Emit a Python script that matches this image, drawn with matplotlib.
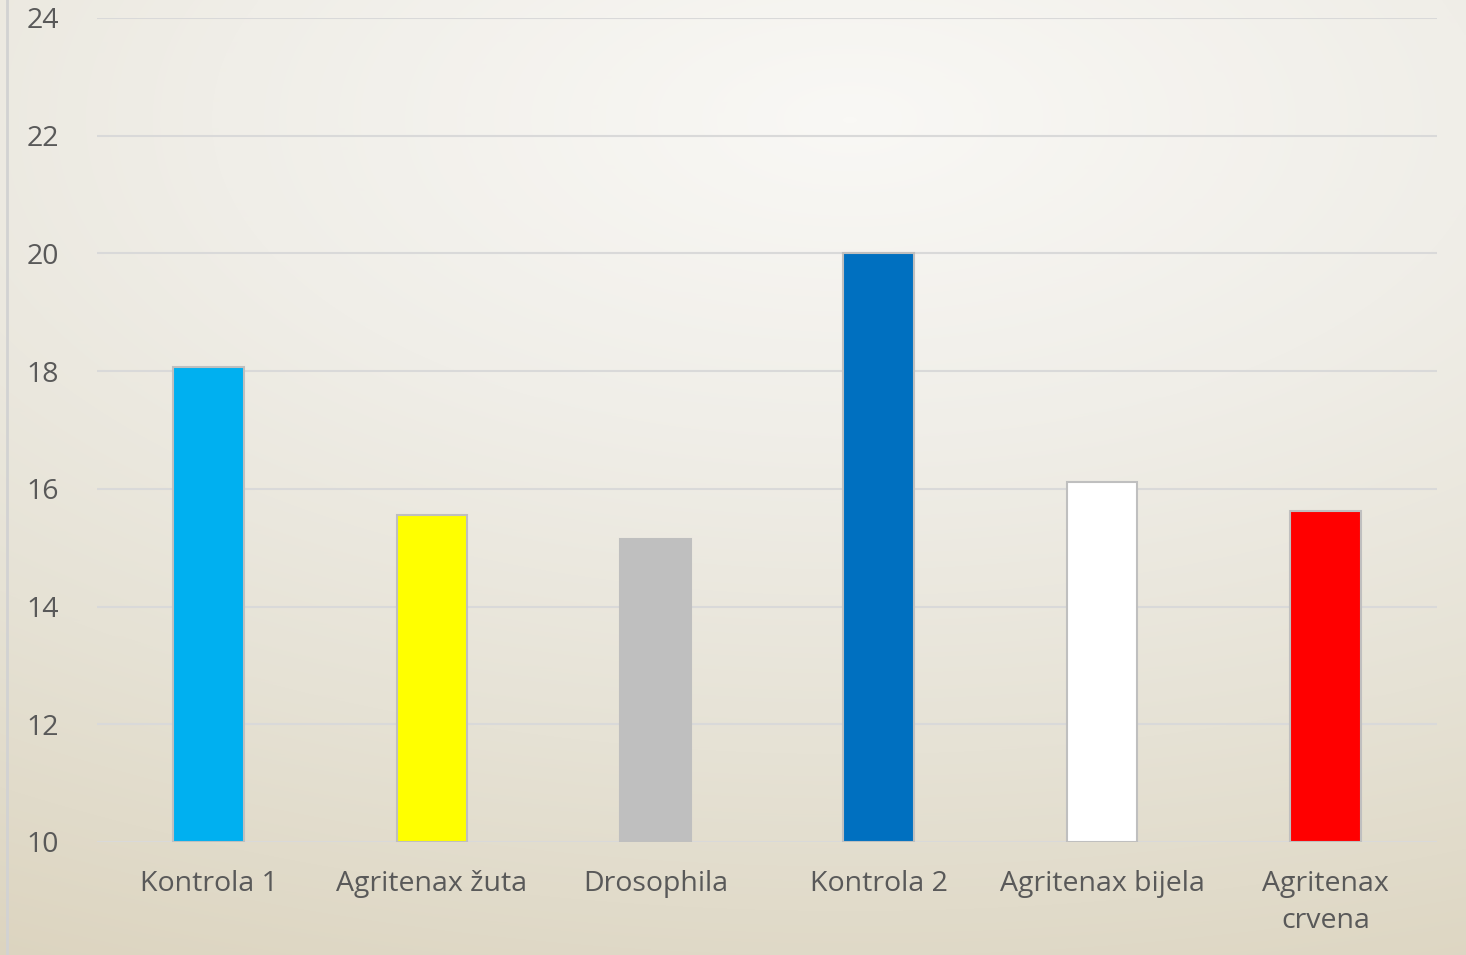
import numpy as np
import matplotlib
matplotlib.use("Agg")
import matplotlib.pyplot as plt
from matplotlib.colors import LinearSegmentedColormap

categories = ["Kontrola 1", "Agritenax žuta", "Drosophila", "Kontrola 2", "Agritenax bijela", "Agritenax\ncrvena"]
values = [18.07, 15.55, 15.15, 20.0, 16.12, 15.62]
colors = ["#00B0F0", "#FFFF00", "#BFBFBF", "#0070C0", "#FFFFFF", "#FF0000"]
yticks = [10, 12, 14, 16, 18, 20, 22, 24]

plt.rcParams['font.family'] = ['Open Sans', 'DejaVu Sans']

fig = plt.figure(figsize=(14.66, 9.55), dpi=100)

# background gradient
bg = fig.add_axes([0, 0, 1, 1], zorder=0)
W, H = 1466, 955
xx, yy = np.meshgrid(np.arange(W), np.arange(H))
cx, cy = 850, 120
r = np.sqrt(((xx - cx) / 1900.0) ** 2 + ((yy - cy) / 950.0) ** 2)
t = np.clip(r, 0, 1)
cmap = LinearSegmentedColormap.from_list("bg", ["#F9F8F5", "#F0EEE8", "#E6E2D5", "#DCD4BF"])
bg.imshow(t, cmap=cmap, vmin=0, vmax=1, aspect="auto", extent=[0, W, H, 0], interpolation="bilinear")
bg.axvline(7, color="#D2D2D2", lw=2)
bg.set_xlim(0, W)
bg.set_ylim(H, 0)
bg.axis("off")

ax = fig.add_axes([97 / W, 1 - 842 / H, (1437 - 97) / W, (842 - 18) / H], zorder=1)
ax.patch.set_alpha(0)
x = np.arange(len(categories))
ax.bar(x, np.array(values) - 10, bottom=10, width=0.315, color=colors,
       edgecolor="#BFBFBF", linewidth=1.5, zorder=3)
ax.set_xlim(-0.5, len(categories) - 0.5)
ax.set_ylim(10, 24)
ax.set_yticks(yticks)
ax.set_yticklabels([str(v) for v in yticks])
ax.set_xticks(x)
ax.set_xticklabels(categories, linespacing=1.45)
ax.yaxis.grid(True, color="#D9D9D9", linewidth=1.5, zorder=0)
ax.set_axisbelow(True)
for s in ax.spines.values():
    s.set_visible(False)
ax.tick_params(axis="both", length=0, labelsize=20.5, colors="#595959")
ax.tick_params(axis="x", pad=20)
ax.tick_params(axis="y", pad=51)
for lbl in ax.get_yticklabels():
    lbl.set_horizontalalignment("left")

fig.savefig("out.png", dpi=100)
